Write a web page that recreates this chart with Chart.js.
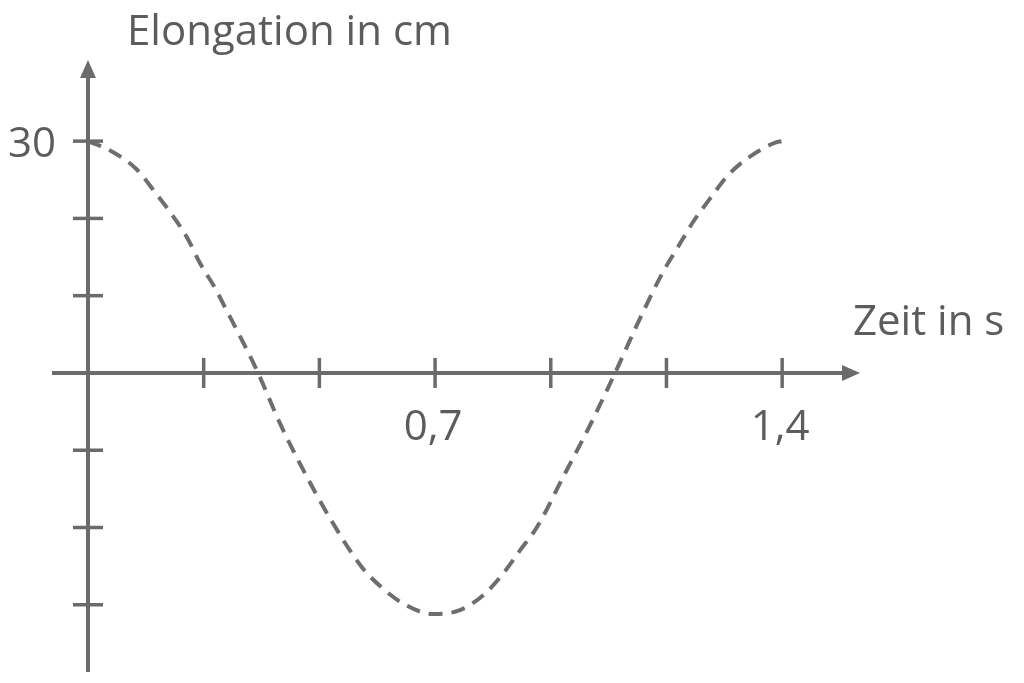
<!DOCTYPE html>
<html>
<head>
<meta charset="utf-8">
<script src="https://cdn.jsdelivr.net/npm/chart.js@4"></script>
<style>
  html, body { margin: 0; padding: 0; background: #fff; }
  #wrap { width: 1024px; height: 683px; }
</style>
</head>
<body>
<div id="wrap"><canvas id="chart"></canvas></div>
<script>
// time in s, elongation in cm
const timeS = [0, 0.05, 0.099, 0.135, 0.167, 0.2, 0.226, 0.256, 0.282, 0.307, 0.343, 0.387, 0.428, 0.488,
  0.552, 0.593, 0.64, 0.696, 0.75, 0.80, 0.838, 0.872, 0.906, 0.958, 1.013, 1.063, 1.11, 1.16, 1.19, 1.22,
  1.255, 1.291, 1.335, 1.386, 1.40];
const elongCm = [30, 28.6, 26.3, 23.4, 20.7, 17.5, 14.2, 11, 7.8, 4.7, 0, -6.5, -11.8, -18.8,
  -25.1, -27.8, -30, -31.2, -30.7, -28.6, -25.9, -22.9, -19.9, -13.5, -6.7, 0, 6.6, 13.1, 16.3, 19.5,
  22.6, 25.6, 28, 29.8, 30];

const xTicks = [0, 0.7 / 3, 1.4 / 3, 0.7, 2.8 / 3, 3.5 / 3, 1.4];
const xTickLabels = ['', '', '', '0,7', '', '', '1,4'];
const yTicks = [30, 20, 10, 0, -10, -20, -30];
const yTickLabels = ['30', '', '', '', '', '', ''];
const xTitle = 'Zeit in s';
const yTitle = 'Elongation in cm';

const axisColor = '#6b6b6b';
const textColor = '#5c5c5c';
const font = '42px "Open Sans"';

const axesPlugin = {
  id: 'axes',
  beforeDatasetsDraw(chart) {
    const { ctx, chartArea: a, scales: { x, y } } = chart;
    const x0 = x.getPixelForValue(0), y0 = y.getPixelForValue(0);
    ctx.save();
    ctx.strokeStyle = axisColor;
    ctx.fillStyle = axisColor;
    ctx.lineWidth = 4;
    // x axis
    ctx.beginPath();
    ctx.moveTo(a.left, y0);
    ctx.lineTo(a.right - 12, y0);
    ctx.stroke();
    ctx.beginPath();
    ctx.moveTo(a.right, y0);
    ctx.lineTo(a.right - 18, y0 - 8);
    ctx.lineTo(a.right - 18, y0 + 8);
    ctx.closePath();
    ctx.fill();
    // y axis
    ctx.beginPath();
    ctx.moveTo(x0, a.bottom);
    ctx.lineTo(x0, a.top + 12);
    ctx.stroke();
    ctx.beginPath();
    ctx.moveTo(x0, a.top);
    ctx.lineTo(x0 - 8, a.top + 18);
    ctx.lineTo(x0 + 8, a.top + 18);
    ctx.closePath();
    ctx.fill();
    // ticks
    ctx.lineWidth = 3.5;
    xTicks.forEach(function (t) {
      if (t === 0) return;
      const px = x.getPixelForValue(t);
      ctx.beginPath();
      ctx.moveTo(px, y0 - 15);
      ctx.lineTo(px, y0 + 15);
      ctx.stroke();
    });
    yTicks.forEach(function (v) {
      if (v === 0) return;
      const py = y.getPixelForValue(v);
      ctx.beginPath();
      ctx.moveTo(x0 - 15, py);
      ctx.lineTo(x0 + 15, py);
      ctx.stroke();
    });
    // labels
    ctx.fillStyle = textColor;
    ctx.font = font;
    ctx.textBaseline = 'alphabetic';
    ctx.textAlign = 'center';
    xTicks.forEach(function (t, i) {
      if (xTickLabels[i]) ctx.fillText(xTickLabels[i], x.getPixelForValue(t) - 2, y0 + 67);
    });
    ctx.textAlign = 'right';
    yTicks.forEach(function (v, i) {
      if (yTickLabels[i]) ctx.fillText(yTickLabels[i], x0 - 32, y.getPixelForValue(v) + 16);
    });
    ctx.textAlign = 'left';
    ctx.fillText(yTitle, x0 + 39, 45);
    ctx.fillText(xTitle, a.right - 7, y0 - 38);
    ctx.restore();
  }
};

new Chart(document.getElementById('chart'), {
  type: 'scatter',
  data: {
    datasets: [{
      data: timeS.map(function (t, i) { return { x: t, y: elongCm[i] }; }),
      showLine: true,
      borderColor: '#6e6e6e',
      borderWidth: 4,
      borderDash: [14, 9],
      pointRadius: 0,
      cubicInterpolationMode: 'monotone'
    }]
  },
  options: {
    responsive: true,
    maintainAspectRatio: false,
    animation: false,
    layout: { padding: { left: 52, right: 164, top: 60, bottom: 11 } },
    plugins: { legend: { display: false }, tooltip: { enabled: false } },
    scales: {
      x: { type: 'linear', display: false, min: -0.0726, max: 1.557 },
      y: { type: 'linear', display: false, min: -38.7, max: 40.5 }
    }
  },
  plugins: [axesPlugin]
});
</script>
</body>
</html>
